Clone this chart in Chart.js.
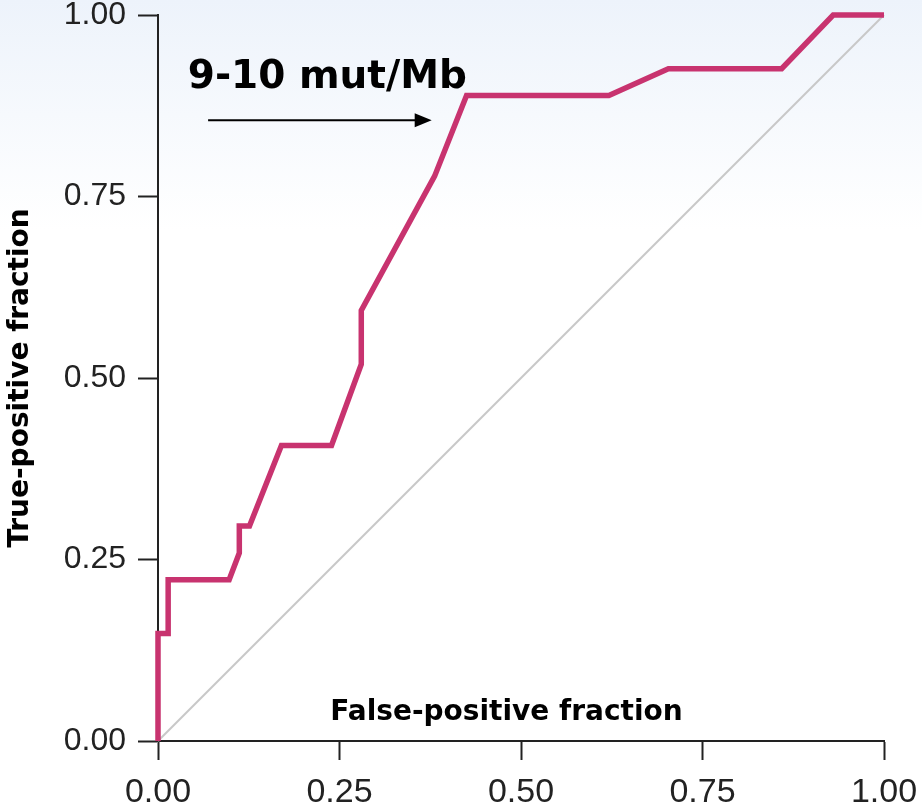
<!DOCTYPE html>
<html><head><meta charset="utf-8">
<script src="https://cdn.jsdelivr.net/npm/chart.js@4/dist/chart.umd.min.js"></script>
<style>html,body{margin:0;padding:0;background:#fff;}#wrap{width:922px;height:812px;position:relative;}</style>
</head><body><div id="wrap"><canvas id="c" width="922" height="812"></canvas></div>
<script>
// ROC curve (false-positive fraction vs true-positive fraction)
const fpr = [0, 0, 0.014, 0.014, 0.098, 0.112, 0.112, 0.126, 0.170, 0.239, 0.280, 0.280, 0.381, 0.425, 0.621, 0.703, 0.859, 0.930, 1.0];
const tpr = [0, 0.148, 0.148, 0.222, 0.222, 0.259, 0.296, 0.296, 0.407, 0.407, 0.519, 0.593, 0.778, 0.889, 0.889, 0.926, 0.926, 1.0, 1.0];
// chance diagonal
const refX = [0, 1];
const refY = [0, 1];
const tickValues = [0, 0.25, 0.5, 0.75, 1];
const xTitle = 'False-positive fraction';
const yTitle = 'True-positive fraction';
const cutoffLabel = '9-10 mut/Mb';

const tickFont = "'Liberation Sans', Arial, sans-serif";
const boldFont = "'DejaVu Sans', Verdana, sans-serif";

const bgPlugin = {
  id: 'bg',
  beforeDraw(chart) {
    const ctx = chart.ctx;
    const g = ctx.createLinearGradient(0, 0, 0, 230);
    g.addColorStop(0, '#edf3fb');
    g.addColorStop(1, '#ffffff');
    ctx.save();
    ctx.fillStyle = '#ffffff';
    ctx.fillRect(0, 0, chart.width, chart.height);
    ctx.fillStyle = g;
    ctx.fillRect(0, 0, chart.width, 230);
    ctx.restore();
  }
};

const annotPlugin = {
  id: 'annot',
  afterDatasetsDraw(chart) {
    const ctx = chart.ctx;
    const xs = chart.scales.x, ys = chart.scales.y;
    ctx.save();
    // x-axis title inside plot area
    ctx.font = 'bold 28px ' + boldFont;
    ctx.fillStyle = '#000';
    ctx.textAlign = 'center';
    ctx.textBaseline = 'alphabetic';
    ctx.fillText(xTitle, xs.getPixelForValue(0.48), ys.getPixelForValue(0.029));
    // cutoff label
    ctx.font = 'bold 39px ' + boldFont;
    ctx.textAlign = 'left';
    ctx.fillText(cutoffLabel, xs.getPixelForValue(0.041), ys.getPixelForValue(0.90));
    // arrow
    const ay = ys.getPixelForValue(0.855);
    const ax0 = xs.getPixelForValue(0.069), ax1 = xs.getPixelForValue(0.377);
    ctx.strokeStyle = '#000';
    ctx.lineWidth = 2.2;
    ctx.beginPath();
    ctx.moveTo(ax0, ay);
    ctx.lineTo(ax1 - 14, ay);
    ctx.stroke();
    ctx.fillStyle = '#000';
    ctx.beginPath();
    ctx.moveTo(ax1, ay);
    ctx.lineTo(ax1 - 17, ay - 7);
    ctx.lineTo(ax1 - 17, ay + 7);
    ctx.closePath();
    ctx.fill();
    ctx.restore();
  }
};

function zeroPad(s) { s.paddingTop = 0; s.paddingBottom = 0; s.paddingLeft = 0; s.paddingRight = 0; }

new Chart(document.getElementById('c'), {
  type: 'scatter',
  data: {
    datasets: [
      {
        label: 'ROC',
        data: fpr.map((x, i) => ({x: x, y: tpr[i]})),
        showLine: true,
        borderColor: '#c8336f',
        borderWidth: 5.5,
        borderJoinStyle: 'miter',
        borderCapStyle: 'butt',
        pointRadius: 0,
        fill: false,
        clip: 12,
        tension: 0
      },
      {
        label: 'Reference',
        data: refX.map((x, i) => ({x: x, y: refY[i]})),
        showLine: true,
        borderColor: '#c8c8c8',
        borderWidth: 2,
        pointRadius: 0,
        fill: false,
        clip: 12
      }
    ]
  },
  options: {
    responsive: false,
    animation: false,
    devicePixelRatio: 1,
    layout: {padding: {top: 15, right: 38, bottom: 0, left: 0}},
    plugins: {legend: {display: false}, tooltip: {enabled: false}},
    scales: {
      x: {
        type: 'linear', min: 0, max: 1,
        afterBuildTicks: s => { s.ticks = tickValues.map(v => ({value: v})); },
        afterFit: s => { s.height = 71; zeroPad(s); },
        ticks: {
          callback: v => Number(v).toFixed(2),
          font: {family: tickFont, size: 34},
          color: '#222',
          padding: 12,
          maxRotation: 0, autoSkip: false
        },
        grid: {display: true, drawOnChartArea: false, drawTicks: true, tickLength: 19, tickWidth: 2, tickColor: '#222'},
        border: {display: true, color: '#222', width: 2}
      },
      y: {
        type: 'linear', min: 0, max: 1,
        afterBuildTicks: s => { s.ticks = tickValues.map(v => ({value: v})); },
        afterFit: s => { s.width = 158; zeroPad(s); },
        ticks: {
          callback: v => Number(v).toFixed(2),
          font: {family: tickFont, size: 32},
          color: '#222',
          padding: 12,
          autoSkip: false
        },
        grid: {display: true, drawOnChartArea: false, drawTicks: true, tickLength: 20, tickWidth: 2, tickColor: '#222'},
        border: {display: true, color: '#222', width: 2},
        title: {
          display: true,
          text: yTitle,
          font: {family: boldFont, size: 28, weight: 'bold'},
          color: '#000',
          padding: {top: 4, bottom: 0}
        }
      }
    }
  },
  plugins: [bgPlugin, annotPlugin]
});
</script>
</body></html>
